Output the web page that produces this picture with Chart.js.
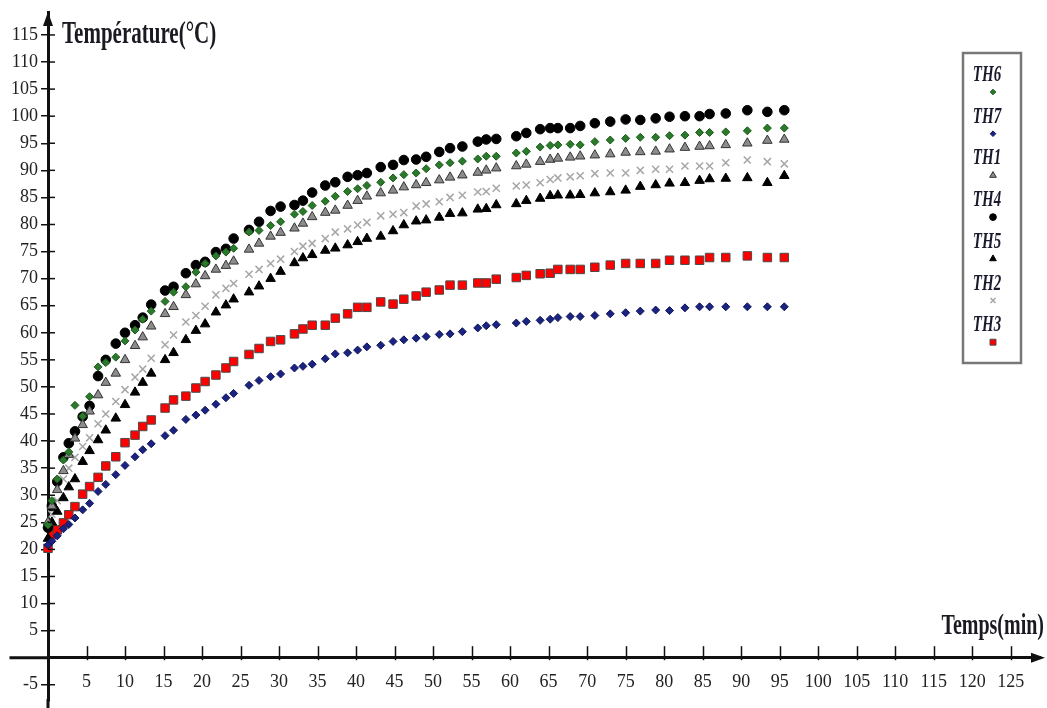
<!DOCTYPE html>
<html>
<head>
<meta charset="utf-8">
<script src="https://cdn.jsdelivr.net/npm/chart.js"></script>
<style>
  html, body { margin: 0; padding: 0; background: #fff; }
  #wrap { width: 1047px; height: 708px; position: relative; }
</style>
</head>
<body>
<div id="wrap"><canvas id="myChart"></canvas></div>
<script>
// Sampling times (min), shared by all thermocouples
const times = [0, 0.5, 1.2, 2, 2.7, 3.5, 4.5, 5.4, 6.5, 7.5, 8.8, 10, 11.3, 12.3, 13.4, 15.2, 16.3, 17.9, 19.2, 20.4,
  21.8, 23.1, 24.1, 26.1, 27.4, 28.9, 30.2, 32, 33.1, 34.3, 36, 37.3, 38.9, 40.2, 41.4, 43.2, 44.8, 46.2, 47.8, 49.1,
  50.8, 52.2, 53.8, 55.8, 56.9, 58.2, 60.8, 62.1, 63.9, 65.2, 66.2, 67.8, 69.1, 71, 73, 75, 76.9, 78.9, 80.7, 82.7,
  84.6, 85.9, 88, 90.8, 93.4, 95.6];

// Temperatures (°C)
const th6 = [24.5, 29.0, 33.0, 36.5, 38.0, 46.6, 44.6, 48.2, 53.7, 54.5, 55.5, 58.5, 60.5, 62.5, 64.0, 65.8, 67.5, 68.5, 71.2, 72.8,
  74.2, 74.9, 75.6, 78.6, 78.9, 79.8, 80.5, 81.9, 82.4, 83.5, 84.3, 85.2, 86.1, 86.6, 87.2, 87.8, 88.6, 89.2, 89.5, 90.3,
  91.0, 91.4, 91.7, 92.1, 92.6, 92.6, 93.2, 93.5, 94.3, 94.6, 94.7, 94.8, 94.7, 95.3, 95.6, 95.9, 96.1, 96.1, 96.4, 96.5,
  97.0, 97.0, 97.1, 97.3, 97.8, 97.8];
const th7 = [20.8, 21.5, 22.5, 23.8, 24.6, 25.8, 27.3, 28.5, 30.7, 32.0, 33.8, 35.5, 37.1, 38.4, 39.5, 41.0, 42.0, 44.0, 44.8, 45.7,
  46.8, 48.0, 48.8, 50.3, 51.2, 51.9, 52.4, 53.5, 53.8, 54.2, 55.2, 56.1, 56.3, 56.8, 57.4, 57.7, 58.4, 58.7, 59.0, 59.3,
  59.7, 59.8, 60.2, 60.9, 61.3, 61.5, 61.8, 62.1, 62.3, 62.5, 62.8, 63.0, 63.0, 63.2, 63.5, 63.7, 64.0, 64.2, 64.1, 64.6,
  64.8, 64.8, 64.8, 64.8, 64.8, 64.8];
const th1 = [25.0, 28.0, 31.0, 34.5, 37.5, 40.5, 43.0, 45.5, 48.5, 50.8, 52.5, 55.0, 57.6, 59.2, 61.2, 63.5, 64.8, 67.0, 69.0, 70.5,
  71.7, 72.4, 73.2, 75.4, 76.5, 77.8, 78.5, 79.3, 80.2, 81.4, 82.2, 82.6, 83.5, 84.4, 85.2, 85.8, 86.3, 86.9, 87.3, 87.7,
  88.2, 88.7, 89.1, 89.6, 90.0, 90.4, 90.8, 91.1, 91.6, 92.0, 92.2, 92.4, 92.6, 92.8, 93.0, 93.3, 93.4, 93.5, 93.9, 94.2,
  94.4, 94.5, 94.7, 95.0, 95.5, 95.7];
const th4 = [24.0, 28.0, 32.5, 37.0, 39.6, 41.8, 44.5, 46.5, 52.0, 55.0, 58.0, 60.0, 61.4, 62.8, 65.2, 67.8, 68.5, 71.0, 72.5, 73.1,
  74.9, 75.5, 77.4, 79.0, 80.5, 82.5, 83.3, 83.6, 84.4, 85.9, 87.2, 87.8, 88.8, 89.1, 89.5, 90.6, 91.0, 91.9, 92.0, 92.5,
  93.4, 94.1, 94.4, 95.3, 95.7, 95.8, 96.3, 96.9, 97.6, 97.8, 97.8, 97.8, 98.2, 98.7, 99.0, 99.4, 99.3, 99.6, 99.9, 100.0,
  100.0, 100.4, 100.5, 101.1, 100.8, 101.1];
const th5 = [22.0, 25.0, 27.0, 29.5, 31.5, 33.0, 36.2, 38.2, 40.2, 42.0, 44.2, 46.7, 49.0, 50.8, 52.5, 55.0, 56.3, 58.7, 60.4, 61.6,
  63.8, 65.1, 66.2, 67.5, 68.6, 70.0, 71.3, 72.9, 73.8, 74.4, 75.2, 75.6, 76.2, 76.8, 77.4, 77.8, 78.8, 79.9, 80.6, 80.8,
  81.3, 82.0, 82.1, 82.8, 82.9, 83.6, 83.8, 84.4, 84.8, 85.3, 85.4, 85.4, 85.5, 85.8, 86.0, 86.3, 87.0, 87.3, 87.6, 87.7,
  88.1, 88.4, 88.5, 88.6, 87.7, 89.0];
const th2 = [24.0, 26.5, 29.0, 33.0, 35.0, 37.0, 39.0, 40.6, 43.2, 45.0, 47.3, 49.5, 51.8, 53.3, 55.3, 57.8, 59.6, 62.0, 63.2, 64.9,
  67.0, 68.2, 69.1, 70.8, 71.7, 72.8, 73.6, 75.0, 76.0, 76.5, 77.4, 78.6, 79.2, 79.9, 80.4, 81.6, 81.9, 82.2, 83.4, 83.8,
  84.2, 85.0, 85.4, 86.0, 86.1, 86.7, 87.1, 87.3, 87.7, 88.3, 88.6, 88.8, 89.0, 89.4, 89.5, 89.5, 90.0, 90.2, 90.2, 90.8,
  90.8, 90.8, 91.4, 91.9, 91.6, 91.2];
const th3 = [20.2, 22.7, 23.6, 24.9, 26.4, 27.9, 30.2, 31.6, 33.3, 35.4, 37.1, 39.7, 41.1, 42.7, 43.9, 46.1, 47.6, 48.3, 49.8, 51.0,
  52.2, 53.5, 54.7, 56.0, 57.1, 58.4, 58.7, 59.8, 60.7, 61.4, 61.4, 62.7, 63.5, 64.7, 64.7, 65.7, 65.3, 66.2, 66.8, 67.5,
  67.9, 68.8, 68.8, 69.2, 69.2, 69.9, 70.2, 70.6, 70.9, 71.0, 71.7, 71.7, 71.7, 72.1, 72.5, 72.8, 72.8, 72.8, 73.4, 73.4,
  73.4, 73.9, 73.9, 74.2, 73.9, 73.9];

const xTicks = [5, 10, 15, 20, 25, 30, 35, 40, 45, 50, 55, 60, 65, 70, 75, 80, 85, 90, 95, 100, 105, 110, 115, 120, 125];
const yTicks = [-5, 5, 10, 15, 20, 25, 30, 35, 40, 45, 50, 55, 60, 65, 70, 75, 80, 85, 90, 95, 100, 105, 110, 115];

function pts(vals) {
  return vals.map((v, i) => ({ x: times[i], y: v }));
}

function series(label, vals, style, radius, fill, stroke, bw) {
  return {
    label: label,
    data: pts(vals),
    pointStyle: style,
    pointRadius: radius,
    pointBackgroundColor: fill,
    pointBorderColor: stroke,
    pointBorderWidth: bw,
    backgroundColor: fill,
    borderColor: stroke,
    clip: false
  };
}

const datasets = [
  series('TH6', th6, 'rectRot', 4, '#2b7a2b', '#1c5a1c', 1),
  series('TH7', th7, 'rectRot', 4, '#1b2380', '#10165c', 1),
  series('TH1', th1, 'triangle', 5.5, '#8c8c8c', '#333333', 1),
  series('TH4', th4, 'circle', 4.8, '#000000', '#000000', 1),
  series('TH5', th5, 'triangle', 5.5, '#000000', '#000000', 1),
  series('TH2', th2, 'crossRot', 5, '#a6a6a6', '#a6a6a6', 1.5),
  series('TH3', th3, 'rect', 6, '#ff0000', '#4a4a4a', 1)
];

const tickFont = { family: '"Liberation Serif", serif', size: 18 };

// text drawn taller than wide, like the scanned original
function tallText(ctx, text, x, y, font, sy, align) {
  ctx.save();
  ctx.font = font;
  ctx.textAlign = align || 'left';
  ctx.textBaseline = 'alphabetic';
  ctx.translate(x, y);
  ctx.scale(1, sy);
  ctx.fillText(text, 0, 0);
  ctx.restore();
}

const decorations = {
  id: 'decorations',
  afterDraw(chart) {
    const ctx = chart.ctx;
    const xs = chart.scales.x, ys = chart.scales.y;
    const area = chart.chartArea;
    const x0 = xs.getPixelForValue(0), y0 = ys.getPixelForValue(0);
    const xEnd = chart.width - 2;
    ctx.save();
    ctx.strokeStyle = '#111';
    ctx.fillStyle = '#111';

    // axes run past the plot area: x to the left and right, y down to the edge
    ctx.lineWidth = 3;
    ctx.beginPath();
    ctx.moveTo(xs.getPixelForValue(-5), y0);
    ctx.lineTo(x0, y0);
    ctx.moveTo(area.right - 2, y0);
    ctx.lineTo(xEnd - 8, y0);
    ctx.moveTo(x0, area.bottom - 2);
    ctx.lineTo(x0, chart.height);
    ctx.stroke();

    // tick marks: y ticks cross the axis, x ticks stand above it
    ctx.lineWidth = 1.5;
    yTicks.forEach(v => {
      const p = ys.getPixelForValue(v);
      ctx.beginPath();
      ctx.moveTo(x0, p);
      ctx.lineTo(x0 + 7, p);
      ctx.stroke();
    });
    xTicks.forEach(v => {
      const p = Math.round(xs.getPixelForValue(v)) + 0.5;
      ctx.beginPath();
      ctx.moveTo(p, y0 - 11.5);
      ctx.lineTo(p, y0 + 2.5);
      ctx.stroke();
    });

    // arrow heads
    ctx.beginPath();
    ctx.moveTo(x0, area.top);
    ctx.lineTo(x0 - 5, area.top + 14);
    ctx.lineTo(x0 + 5, area.top + 14);
    ctx.closePath();
    ctx.fill();
    ctx.beginPath();
    ctx.moveTo(xEnd, y0);
    ctx.lineTo(xEnd - 14, y0 - 5);
    ctx.lineTo(xEnd - 14, y0 + 5);
    ctx.closePath();
    ctx.fill();

    // axis titles
    ctx.fillStyle = '#1a1a22';
    tallText(ctx, 'Température(°C)', x0 + 14, 43, 'bold 21px "Liberation Serif"', 1.5, 'left');
    tallText(ctx, 'Temps(min)', xEnd - 1, 634, 'bold 20px "Liberation Serif"', 1.5, 'right');

    // legend box
    const lx = 963, ly = 53, lw = 58, lh = 310;
    ctx.fillStyle = '#fff';
    ctx.fillRect(lx, ly, lw, lh);
    ctx.strokeStyle = '#777';
    ctx.lineWidth = 2.5;
    ctx.strokeRect(lx, ly, lw, lh);
    chart.data.datasets.forEach((ds, i) => {
      ctx.fillStyle = '#1a1a2e';
      tallText(ctx, ds.label, 987, 81 + i * 41.7, 'bold italic 15px "Liberation Serif"', 1.6, 'center');
      ctx.fillStyle = ds.pointBackgroundColor;
      ctx.strokeStyle = ds.pointBorderColor;
      ctx.lineWidth = ds.pointBorderWidth;
      if (Chart.helpers && Chart.helpers.drawPoint) {
        Chart.helpers.drawPoint(ctx, {
          pointStyle: ds.pointStyle,
          radius: ds.pointRadius * 0.7,
          borderWidth: ds.pointBorderWidth,
          rotation: 0
        }, 993, 92 + i * 41.7);
      }
    });
    ctx.restore();
  }
};

const ctx = document.getElementById('myChart').getContext('2d');
const chart = new Chart(ctx, {
  type: 'scatter',
  data: { datasets: datasets },
  options: {
    responsive: true,
    maintainAspectRatio: false,
    animation: false,
    // padding of 7 on the right and bottom matches the point-size overflow Chart.js reserves anyway
    layout: { padding: { left: 10, right: 7, top: 12, bottom: 7 } },
    plugins: {
      legend: { display: false },
      tooltip: { enabled: false }
    },
    scales: {
      x: {
        type: 'linear',
        position: { y: 0 },
        min: 0,
        max: 128.8,
        afterBuildTicks: s => { s.ticks = xTicks.map(v => ({ value: v })); },
        afterFit: s => { s.paddingLeft = 0; s.paddingRight = 0; },
        grid: { display: false, drawTicks: false },
        border: { display: true, color: '#111', width: 3 },
        ticks: { autoSkip: false, maxRotation: 0, padding: 14, color: '#222', font: tickFont }
      },
      y: {
        type: 'linear',
        position: 'left',
        min: -8.0,
        max: 119.24,
        afterBuildTicks: s => { s.ticks = yTicks.map(v => ({ value: v })); },
        afterFit: s => { s.width = 38; s.paddingTop = 0; s.paddingBottom = 0; },
        grid: { drawOnChartArea: false, drawTicks: true, tickLength: 7, color: '#111', lineWidth: 1.5 },
        border: { display: true, color: '#111', width: 3 },
        ticks: { autoSkip: false, padding: 3, color: '#222', font: tickFont }
      }
    }
  },
  plugins: [decorations]
});
</script>
</body>
</html>
